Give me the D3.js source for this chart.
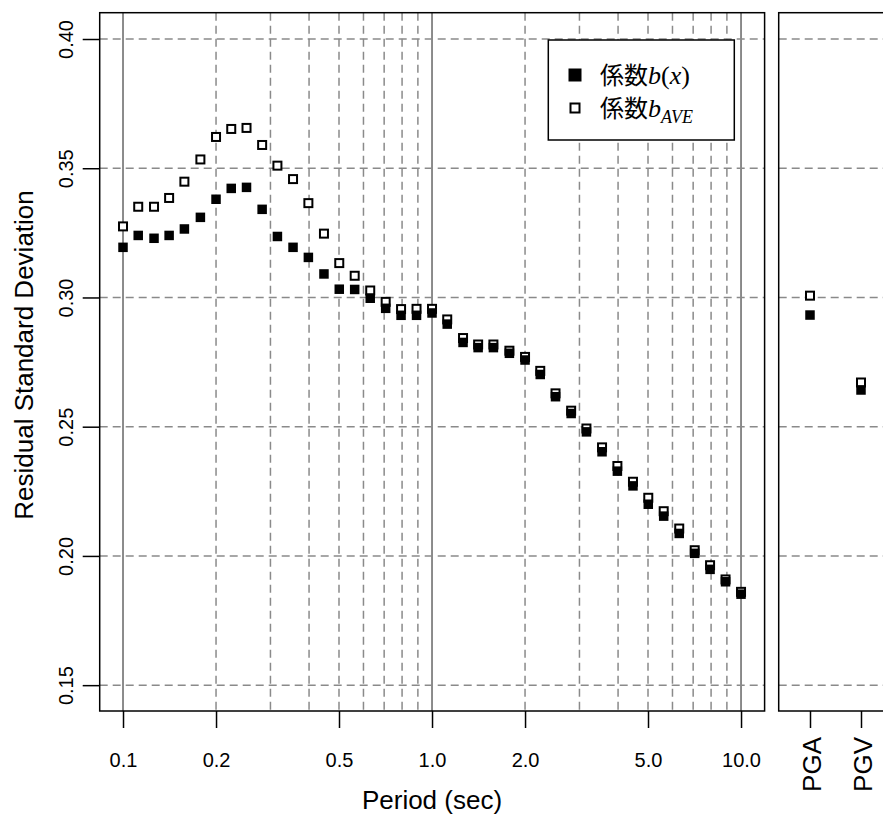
<!DOCTYPE html>
<html><head><meta charset="utf-8">
<script src="https://cdn.jsdelivr.net/npm/d3@7"></script>
<style>body{margin:0;background:#fff}svg{display:block}</style>
</head><body>
<script>
const periods = [0.1,0.112,0.126,0.141,0.158,0.178,0.2,0.224,0.251,0.282,0.316,0.355,0.398,0.447,0.501,0.562,0.631,0.708,0.794,0.891,1.0,1.12,1.26,1.41,1.58,1.78,2.0,2.24,2.51,2.82,3.16,3.55,3.98,4.47,5.01,5.62,6.31,7.08,7.94,8.91,10.0];
const bx = [0.3194,0.3240,0.3229,0.3240,0.3265,0.3310,0.3380,0.3422,0.3426,0.3341,0.3236,0.3194,0.3155,0.3091,0.3032,0.3031,0.2997,0.2958,0.2931,0.2931,0.2940,0.2897,0.2826,0.2806,0.2806,0.2784,0.2758,0.2702,0.2616,0.2551,0.2480,0.2403,0.2328,0.2271,0.2200,0.2154,0.2087,0.2010,0.1948,0.1900,0.1852];
const bAve = [0.3275,0.3351,0.3351,0.3385,0.3448,0.3534,0.3621,0.3652,0.3656,0.3590,0.3510,0.3458,0.3365,0.3247,0.3133,0.3084,0.3027,0.2983,0.2955,0.2956,0.2956,0.2915,0.2843,0.2818,0.2818,0.2794,0.2770,0.2716,0.2629,0.2562,0.2493,0.2420,0.2348,0.2287,0.2225,0.2173,0.2106,0.2022,0.1964,0.1909,0.1861];
const pgCats = ["PGA","PGV"];
const pgBx = [0.2932,0.2642];
const pgAve = [0.3007,0.2671];
const xTicks = [0.1,0.2,0.5,1,2,5,10];
const xTickLabels = ["0.1","0.2","0.5","1.0","2.0","5.0","10.0"];
const xGridDashed = [0.2,0.3,0.4,0.5,0.6,0.7,0.8,0.9,2,3,4,5,6,7,8,9];
const xGridSolid = [0.1,1,10];
const yTicks = [0.15,0.20,0.25,0.30,0.35,0.40];
const yTickLabels = ["0.15","0.20","0.25","0.30","0.35","0.40"];

const W = 883, H = 819;
const L = {x0: 99.7, x1: 764.6, y0: 12.7, y1: 711};
const R = {x0: 778.7, x1: 900};
const svg = d3.select("body").append("svg").attr("width", W).attr("height", H)
  .style("font-family", "'Liberation Sans', Arial, sans-serif");

const x = d3.scaleLog().domain([0.084055, 11.92]).range([L.x0, L.x1]);
const y = d3.scaleLinear().domain([0.14, 0.41018]).range([L.y1, L.y0]);
const xp = d3.scalePoint().domain(pgCats).range([810, 861]);

const dashC = "#8a8a8a";
// clip for right panel
svg.append("clipPath").attr("id","cl").append("rect").attr("x",L.x0).attr("y",L.y0).attr("width",L.x1-L.x0).attr("height",L.y1-L.y0);
svg.append("clipPath").attr("id","cr").append("rect").attr("x",R.x0).attr("y",L.y0).attr("width",R.x1-R.x0).attr("height",L.y1-L.y0);

const gl = svg.append("g").attr("clip-path","url(#cl)");
gl.selectAll("line.vd").data(xGridDashed).join("line")
  .attr("x1", d=>x(d)).attr("x2", d=>x(d)).attr("y1", L.y0).attr("y2", L.y1)
  .attr("stroke", dashC).attr("stroke-width",1.5).attr("stroke-dasharray","8,5");
gl.selectAll("line.vs").data(xGridSolid).join("line")
  .attr("x1", d=>x(d)).attr("x2", d=>x(d)).attr("y1", L.y0).attr("y2", L.y1)
  .attr("stroke", "#707070").attr("stroke-width",1.6);
gl.selectAll("line.h").data(yTicks).join("line")
  .attr("x1", L.x0).attr("x2", L.x1).attr("y1", d=>y(d)).attr("y2", d=>y(d))
  .attr("stroke", dashC).attr("stroke-width",1.5).attr("stroke-dasharray","8,5");

const gr = svg.append("g").attr("clip-path","url(#cr)");
gr.selectAll("line.h").data(yTicks).join("line")
  .attr("x1", R.x0).attr("x2", R.x1).attr("y1", d=>y(d)).attr("y2", d=>y(d))
  .attr("stroke", dashC).attr("stroke-width",1.5).attr("stroke-dasharray","8,5");

// points left
const sq = 9.5, so = 8;
const idx = d3.range(periods.length);
gl.selectAll("rect.o").data(idx).join("rect")
  .attr("x", i=>x(periods[i])-so/2).attr("y", i=>y(bAve[i])-so/2).attr("width",so).attr("height",so)
  .attr("fill","#fff").attr("stroke","#000").attr("stroke-width",2);
gl.selectAll("rect.f").data(idx).join("rect")
  .attr("x", i=>x(periods[i])-sq/2).attr("y", i=>y(bx[i])-sq/2).attr("width",sq).attr("height",sq)
  .attr("fill","#000");
// points right
gr.selectAll("rect.o").data([0,1]).join("rect")
  .attr("x", i=>xp(pgCats[i])-so/2).attr("y", i=>y(pgAve[i])-so/2).attr("width",so).attr("height",so)
  .attr("fill","#fff").attr("stroke","#000").attr("stroke-width",2);
gr.selectAll("rect.f").data([0,1]).join("rect")
  .attr("x", i=>xp(pgCats[i])-sq/2).attr("y", i=>y(pgBx[i])-sq/2).attr("width",sq).attr("height",sq)
  .attr("fill","#000");

// boxes
svg.append("rect").attr("x",L.x0).attr("y",L.y0).attr("width",L.x1-L.x0).attr("height",L.y1-L.y0)
  .attr("fill","none").attr("stroke","#000").attr("stroke-width",1.5);
svg.append("rect").attr("x",R.x0).attr("y",L.y0).attr("width",R.x1-R.x0).attr("height",L.y1-L.y0)
  .attr("fill","none").attr("stroke","#000").attr("stroke-width",1.5);

// x axis left
const ax = svg.append("g").attr("transform",`translate(0,${L.y1})`)
  .call(d3.axisBottom(x).tickValues(xTicks).tickSize(17).tickFormat((d,i)=>xTickLabels[i]));
ax.select(".domain").remove();
ax.selectAll("line").attr("stroke","#000").attr("stroke-width",1.5);
ax.selectAll("text").attr("y",56).attr("dy",0).attr("font-size",20).attr("fill","#000")
  .style("font-family","'Liberation Sans', Arial, sans-serif");

// x axis right
const axr = svg.append("g").attr("transform",`translate(0,${L.y1})`)
  .call(d3.axisBottom(xp).tickSize(17));
axr.select(".domain").remove();
axr.selectAll("line").attr("stroke","#000").attr("stroke-width",1.5);
axr.selectAll("text").attr("y",0).attr("dy",0).attr("text-anchor","end")
  .attr("transform","translate(10,26) rotate(-90)").attr("font-size",26).attr("fill","#000")
  .style("font-family","'Liberation Sans', Arial, sans-serif");

// y axis
const ay = svg.append("g").attr("transform",`translate(${L.x0},0)`)
  .call(d3.axisLeft(y).tickValues(yTicks).tickSize(17).tickFormat((d,i)=>yTickLabels[i]));
ay.select(".domain").remove();
ay.selectAll("line").attr("stroke","#000").attr("stroke-width",1.5);
ay.selectAll("text").attr("x",0).attr("y",0).attr("dy",0).attr("text-anchor","middle")
  .attr("transform","translate(-26.5,0) rotate(-90)").attr("font-size",20).attr("fill","#000")
  .style("font-family","'Liberation Sans', Arial, sans-serif");

// titles
svg.append("text").attr("x",432).attr("y",809).attr("text-anchor","middle").attr("font-size",26).text("Period (sec)");
svg.append("text").attr("transform","translate(33,355) rotate(-90)").attr("text-anchor","middle").attr("font-size",26).text("Residual Standard Deviation");

// legend
const lg = svg.append("g");
lg.append("rect").attr("x",548.3).attr("y",40).attr("width",186).attr("height",100)
  .attr("fill","#fff").attr("stroke","#000").attr("stroke-width",1.5);
lg.append("rect").attr("x",575-6.5).attr("y",75-6.5).attr("width",13).attr("height",13).attr("fill","#000");
lg.append("rect").attr("x",575-4.5).attr("y",108-4.5).attr("width",9).attr("height",9).attr("fill","#fff").attr("stroke","#000").attr("stroke-width",2);
const t1 = lg.append("text").attr("x",600).attr("y",84).attr("font-size",26);
t1.append("tspan").style("font-family","'Noto Sans CJK JP', sans-serif").attr("font-size",24).text("係数");
t1.append("tspan").style("font-family","'Liberation Serif', serif").style("font-style","italic").text("b");
t1.append("tspan").style("font-family","'Liberation Serif', serif").text("(");
t1.append("tspan").style("font-family","'Liberation Serif', serif").style("font-style","italic").text("x");
t1.append("tspan").style("font-family","'Liberation Serif', serif").text(")");
const t2 = lg.append("text").attr("x",600).attr("y",117).attr("font-size",26);
t2.append("tspan").style("font-family","'Noto Sans CJK JP', sans-serif").attr("font-size",24).text("係数");
t2.append("tspan").style("font-family","'Liberation Serif', serif").style("font-style","italic").text("b");
t2.append("tspan").style("font-family","'Liberation Serif', serif").style("font-style","italic").attr("font-size",18).attr("dy",6).text("AVE");
</script>
</body></html>
